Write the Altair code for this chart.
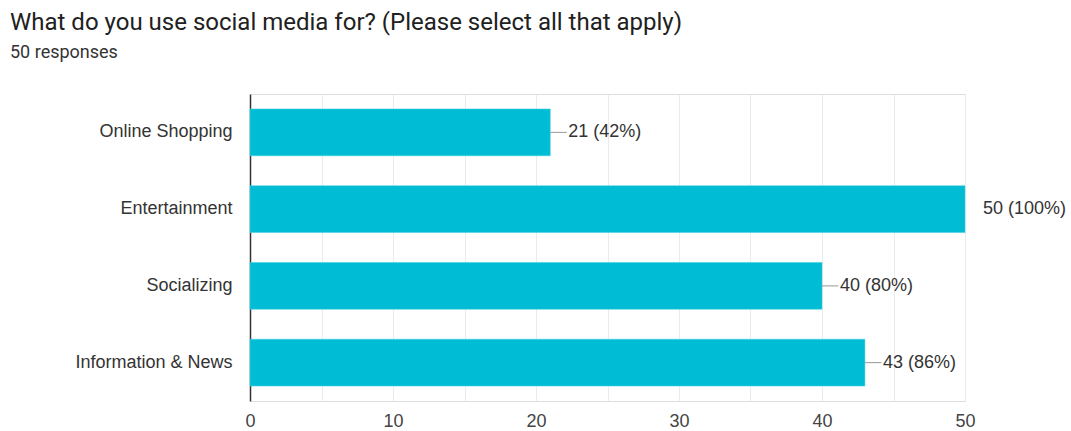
import altair as alt
import pandas as pd

categories = ["Online Shopping", "Entertainment", "Socializing", "Information & News"]
counts = [21, 50, 40, 43]
percents = [42, 100, 80, 86]

df = pd.DataFrame({"category": categories, "count": counts, "pct": percents})
df["label"] = [f"{c} ({p}%)" for c, p in zip(counts, percents)]

FONT = "Liberation Sans"

x_scale = alt.Scale(domain=[0, 50], nice=False, zero=True)
y_enc = alt.Y("category:N", sort=categories, title=None,
              scale=alt.Scale(paddingInner=0.39, paddingOuter=0.195),
              axis=alt.Axis(labelFontSize=18, labelColor="#333333", labelFont=FONT,
                            labelPadding=18, ticks=False, domain=True,
                            domainColor="#333333", domainWidth=1.5, grid=False,
                            labelLimit=300))

base = alt.Chart(df)

bars = base.mark_bar(color="#00bcd4", stroke="#3fd0e0", strokeWidth=0.5).encode(
    x=alt.X("count:Q", scale=x_scale, title=None,
            axis=alt.Axis(values=list(range(0, 51, 5)),
                          labelExpr="datum.value % 10 == 0 ? datum.label : ''",
                          labelFontSize=18, labelColor="#444444", labelFont=FONT,
                          labelPadding=11, labelFlush=False, ticks=False, domain=False,
                          grid=True, gridColor="#ebebeb", gridWidth=1)),
    y=y_enc,
)

connectors = base.transform_calculate(end="datum.count + 1.15").mark_rule(
    color="#999999", strokeWidth=1, clip=True
).encode(
    x=alt.X("count:Q", scale=x_scale),
    x2="end:Q",
    y=alt.Y("category:N", sort=categories, bandPosition=0.5),
)

texts = base.mark_text(align="left", baseline="middle", dx=18, fontSize=18,
                       font=FONT, color="#333333").encode(
    x=alt.X("count:Q", scale=x_scale),
    y=alt.Y("category:N", sort=categories, bandPosition=0.5),
    text="label:N",
)

chart = alt.layer(bars, connectors, texts).properties(
    width=715,
    height=307,
    title=alt.TitleParams(
        text="What do you use social media for? (Please select all that apply)",
        subtitle="50 responses",
        anchor="start",
        frame="group",
        dx=-240,
        offset=32,
        font="Roboto",
        fontSize=24,
        fontWeight="normal",
        color="#212121",
        subtitleFont="Roboto",
        subtitleFontSize=18,
        subtitleColor="#333333",
        subtitlePadding=9,
    ),
    autosize=alt.AutoSizeParams(type="none"),
    padding={"left": 250, "top": 94, "right": 106, "bottom": 30},
).configure_view(stroke="#e0e0e0", strokeWidth=1).configure(background="white")

chart.save("out.html", embed_options={"renderer": "svg", "actions": False})
